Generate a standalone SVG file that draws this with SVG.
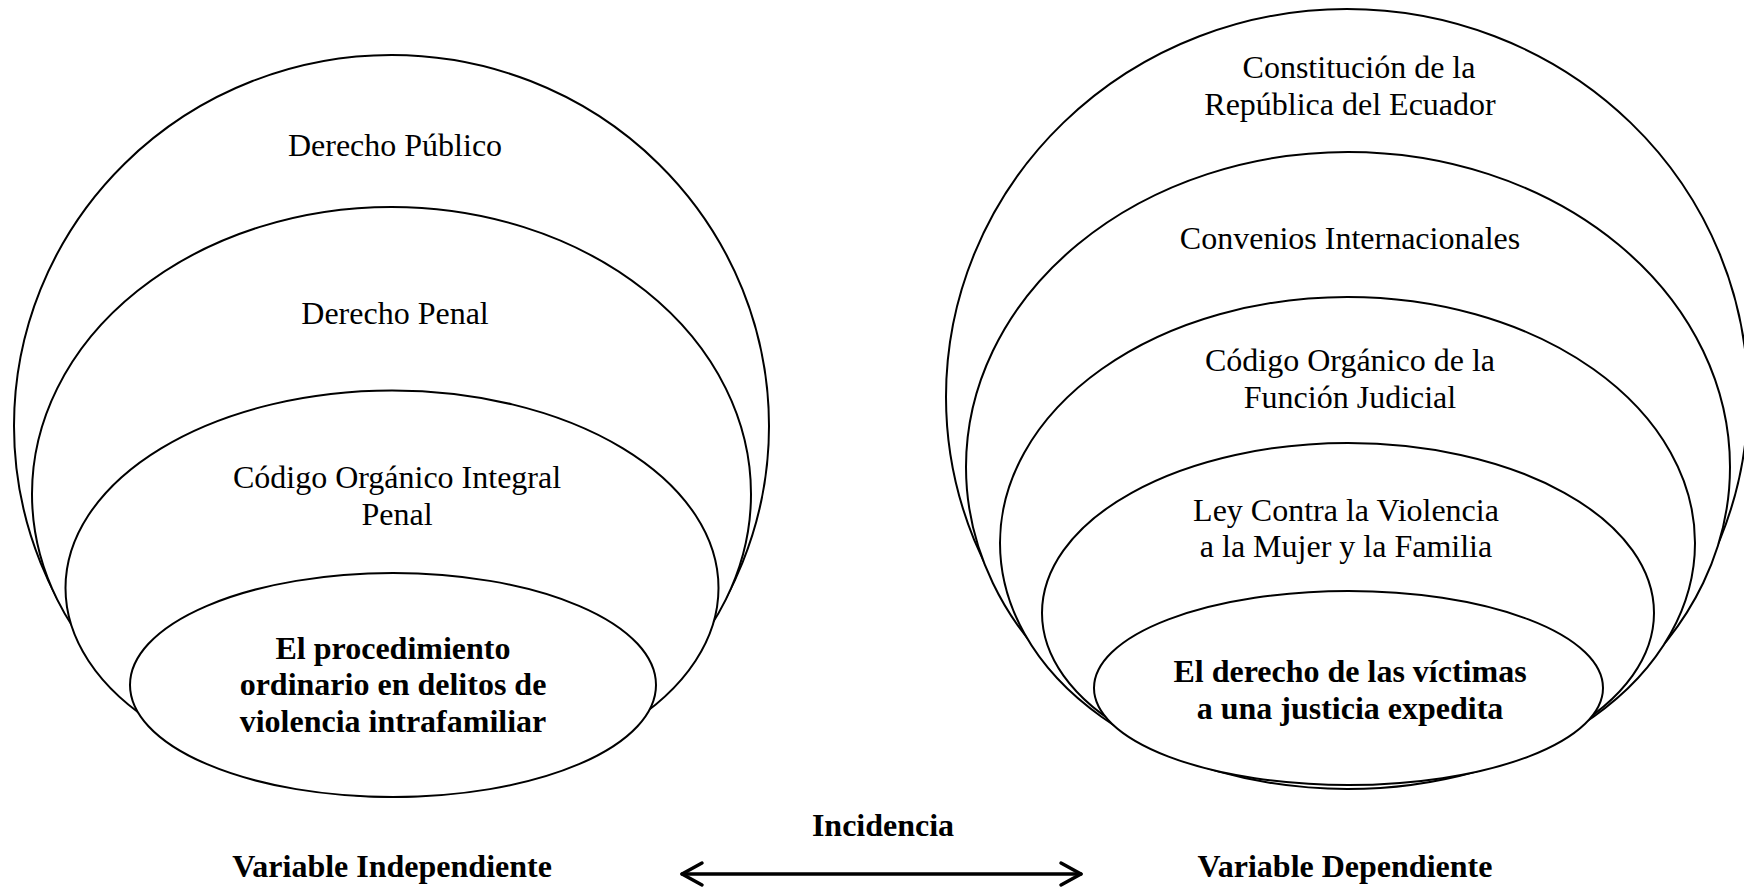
<svg xmlns="http://www.w3.org/2000/svg" width="1744" height="888" viewBox="0 0 1744 888">
<defs>
<style>
.e{fill:#fff;stroke:#000;stroke-width:2}
.t{font-family:"Liberation Serif","Times New Roman",serif;font-size:32px;fill:#000;text-anchor:middle}
.b{font-weight:bold}
.c{stroke:#000;stroke-width:3.5;fill:none;stroke-linecap:round;stroke-linejoin:round}
</style>
</defs>
<rect width="1744" height="888" fill="#fff"/>
<g id="left">
<g id="derecho-publico"><ellipse class="e" cx="391.5" cy="426" rx="377.5" ry="371"/><text class="t" x="395" y="156">Derecho Público</text></g>
<g id="derecho-penal"><ellipse class="e" cx="391.5" cy="494" rx="359.5" ry="287"/><text class="t" x="395" y="324">Derecho Penal</text></g>
<g id="coip"><ellipse class="e" cx="392" cy="588" rx="326.5" ry="197.5"/><text class="t" x="397" y="488">Código Orgánico Integral</text><text class="t" x="397" y="525">Penal</text></g>
<g id="procedimiento"><ellipse class="e" cx="393" cy="685" rx="263" ry="112"/><text class="t b" x="393" y="659">El procedimiento</text><text class="t b" x="393" y="695">ordinario en delitos de</text><text class="t b" x="393" y="732">violencia intrafamiliar</text></g>
</g>
<g id="right">
<g id="constitucion"><ellipse class="e" cx="1347" cy="397" rx="401" ry="388"/><text class="t" x="1359" y="78">Constitución de la</text><text class="t" x="1350" y="115">República del Ecuador</text></g>
<g id="convenios"><ellipse class="e" cx="1348" cy="467" rx="382" ry="315"/><text class="t" x="1350" y="249">Convenios Internacionales</text></g>
<g id="cofj"><ellipse class="e" cx="1347.5" cy="543" rx="347.5" ry="246"/><text class="t" x="1350" y="371">Código Orgánico de la</text><text class="t" x="1350" y="408">Función Judicial</text></g>
<g id="ley"><ellipse class="e" cx="1348" cy="613" rx="306" ry="170"/><text class="t" x="1346" y="521">Ley Contra la Violencia</text><text class="t" x="1346" y="557">a la Mujer y la Familia</text></g>
<g id="derecho-victimas"><ellipse class="e" cx="1348.5" cy="688" rx="254.5" ry="97"/><text class="t b" x="1350" y="682">El derecho de las víctimas</text><text class="t b" x="1350" y="719">a una justicia expedita</text></g>
</g>
<g id="labels">
<text class="t b" x="392" y="877">Variable Independiente</text>
<text class="t b" x="1345" y="877">Variable Dependiente</text>
<text class="t b" x="883" y="836">Incidencia</text>
</g>
<g id="connectors">
<line class="c" x1="682" y1="874" x2="1081" y2="874"/>
<polyline class="c" points="702,863 682,874 702,885"/>
<polyline class="c" points="1061,863 1081,874 1061,885"/>
</g>
</svg>
